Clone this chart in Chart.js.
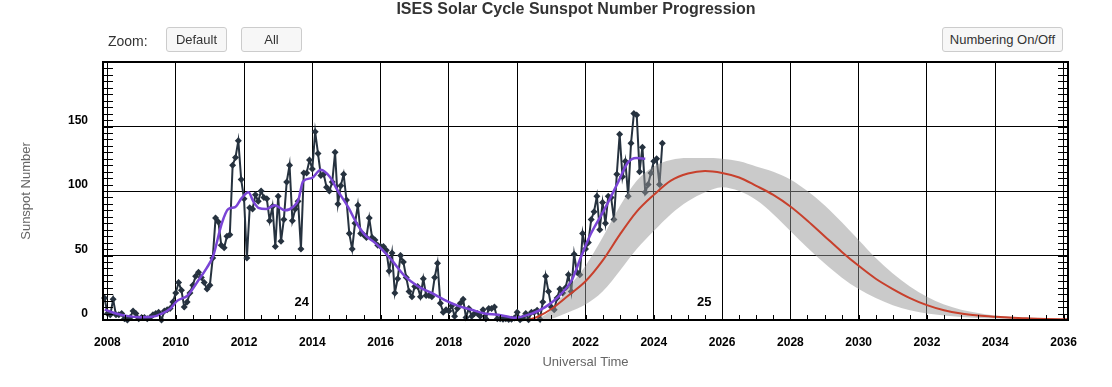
<!DOCTYPE html>
<html>
<head>
<meta charset="utf-8">
<script src="https://cdn.jsdelivr.net/npm/chart.js@4/dist/chart.umd.min.js"></script>
<style>
  body { margin: 0; background: #fff; font-family: "Liberation Sans", Arial, sans-serif; }
  #wrap { position: relative; width: 1112px; height: 387px; overflow: hidden; }
  #c { position: absolute; left: 0; top: 0; }
  .title { position: absolute; top: 0; left: 376px; width: 400px; text-align: center;
           font-size: 16px; font-weight: bold; color: #333; line-height: 17px; white-space: nowrap; }
  .lbl { position: absolute; font-size: 14px; color: #333; }
  .btn { position: absolute; top: 27px; height: 23px; line-height: 23px; text-align: center;
         font-size: 13px; color: #333; background: #f7f7f7; border: 1px solid #ccc; border-radius: 3px; }
</style>
</head>
<body>
<div id="wrap">
  <canvas id="c" width="1112" height="387"></canvas>
  <div class="title">ISES Solar Cycle Sunspot Number Progression</div>
  <div class="lbl" style="left:108px; top:33px;">Zoom:</div>
  <div class="btn" style="left:166px; width:59px;">Default</div>
  <div class="btn" style="left:241px; width:59px;">All</div>
  <div class="btn" style="left:942px; width:119px;">Numbering On/Off</div>
</div>
<script>
// observed monthly sunspot number, first value = Dec 2007
const obsStartYear = 2007;
const obsStartMonth = 12;
const obsValues = [
  17,
  5, 4, 16, 4, 4, 5, 1, 0, 2, 7, 5, 1,
  2, 2, 1, 2, 4, 5, 6, 0, 7, 8, 9, 14,
  21, 29, 23, 10, 14, 21, 27, 34, 37, 33, 29, 24,
  27, 48, 79, 76, 58, 56, 65, 66, 120, 126, 139, 109,
  94, 48, 87, 86, 97, 92, 100, 95, 94, 77, 88, 57,
  96, 61, 78, 107, 120, 77, 86, 92, 55, 114, 114, 124,
  117, 146, 129, 112, 113, 103, 100, 107, 130, 90, 104, 113,
  93, 67, 55, 75, 89, 67, 66, 64, 79, 64, 62, 58,
  57, 57, 54, 38, 52, 21, 32, 50, 45, 33, 22, 18,
  26, 26, 18, 32, 19, 19, 18, 33, 44, 13, 6, 8,
  7, 11, 3, 9, 13, 16, 2, 9, 3, 5, 5, 3,
  8, 1, 9, 9, 10, 1, 1, 0.5, 1, 0.4, 0.5, 1.5,
  6, 0.2, 1.5, 5, 0.2, 6, 6, 7.5, 0.6, 14, 34, 22,
  10, 8, 17, 24, 21, 25, 35, 22, 51, 37, 35, 67,
  55, 60, 78, 84, 96, 70, 91, 75, 96, 95, 78, 113,
  144, 111, 123, 96, 137, 160, 159, 115, 134, 99, 105, 114,
  123, 125, 105, 137
];

// smoothed sunspot number (purple)
const smoothYears = [
  2007.92, 2008.25, 2008.6, 2008.95, 2009.3, 2009.6, 2009.85, 2010.05, 2010.35, 2010.67,
  2010.9, 2011.1, 2011.35, 2011.54, 2011.74, 2011.93, 2012.13, 2012.27, 2012.42, 2012.65,
  2012.9, 2013.2, 2013.45, 2013.59, 2013.73, 2013.98, 2014.25, 2014.51, 2014.75, 2015.05,
  2015.3, 2015.54, 2015.83, 2016.03, 2016.32, 2016.71, 2017.1, 2017.49, 2017.88, 2018.27,
  2018.66, 2019.05, 2019.44, 2019.83, 2019.94, 2020.43, 2020.82, 2021.2, 2021.6, 2021.87,
  2022.16, 2022.55, 2022.94, 2023.24, 2023.49, 2023.75
];
const smoothValues = [
  8, 5, 3, 2.2, 2.5, 5, 9, 15, 19, 31,
  40, 50, 75, 86, 87.5, 94.5, 99, 92, 87, 86,
  89, 85, 88, 93, 107.5, 110, 116.5, 111, 100, 87.5,
  75, 66, 60, 55, 46.6, 34, 26, 21, 15.5, 11,
  8, 5, 4, 2, 1.8, 5, 10, 18, 31, 49,
  67, 85.5, 106, 122, 125.6, 125
];

// predicted cycle 25 (red) with high / low range (grey band)
const predYears = [
  2020.33, 2020.6, 2021.0, 2021.5, 2022.0, 2022.5, 2023.0, 2023.5, 2024.0, 2024.5,
  2025.0, 2025.5, 2026.0, 2026.5, 2027.0, 2027.5, 2028.0, 2028.5, 2029.0, 2029.5,
  2030.0, 2030.5, 2031.0, 2031.5, 2032.0, 2032.5, 2033.0, 2033.5, 2034.0, 2034.5,
  2035.0, 2035.5, 2036.13
];
const predValues = [
  0, 2.5, 8.5, 19, 30, 46, 66, 84, 97, 108,
  113.5, 115.5, 114, 110.5, 104, 97, 88, 77, 65, 53,
  42, 32, 24, 17, 11.5, 7.5, 5, 3.5, 2.5, 1.7,
  1.2, 0.8, 0.5
];
const predHigh = [
  0, 1, 8, 25, 42, 64, 88, 108, 119, 124,
  125.5, 125.5, 125, 123, 119, 115, 109, 100, 89, 76,
  62, 48, 36, 26, 18, 12, 8, 5.5, 3.5, 2.5,
  1.7, 1.2, 0.8
];
const predLow = [
  0, 0, 1, 6, 12, 22, 38, 55, 69, 82,
  92, 99, 103, 100, 93, 82, 69, 56, 44, 33,
  24, 17, 11.5, 7.5, 5, 3.5, 2.3, 1.6, 1.1, 0.8,
  0.5, 0.3, 0.2
];

const xTickYears = [2008, 2010, 2012, 2014, 2016, 2018, 2020, 2022, 2024, 2026, 2028, 2030, 2032, 2034, 2036];
const yTickValues = [0, 50, 100, 150, 200];
const cycleNames = ['24', '25'];
const cycleYears = [2013.69, 2025.48];
const cycleLabelValue = 14;

const xMin = 2007.87, xMax = 2036.13;
const yMin = 0, yMax = 200;
const yMinorStep = 5, xMinorStep = 0.5;

const obsPoints = obsValues.map((v, i) => ({
  x: obsStartYear + (obsStartMonth - 1) / 12 + i / 12,
  y: v
}));
const toPoints = (xs, ys) => xs.map((x, i) => ({ x: x, y: ys[i] }));

// frame, minor ticks and cycle numbers
const framePlugin = {
  id: 'frame',
  afterDatasetsDraw(chart) {
    const { ctx, chartArea: a, scales: { x, y } } = chart;
    ctx.save();
    ctx.strokeStyle = '#000';
    ctx.lineWidth = 1;
    ctx.beginPath();
    for (let v = yMin; v <= yMax; v += yMinorStep) {
      const py = Math.round(y.getPixelForValue(v)) + 0.5;
      ctx.moveTo(a.left, py); ctx.lineTo(a.left + 10, py);
      ctx.moveTo(a.right - 10, py); ctx.lineTo(a.right, py);
    }
    for (let v = xTickYears[0]; v <= xTickYears[xTickYears.length - 1]; v += xMinorStep) {
      const px = Math.round(x.getPixelForValue(v)) + 0.5;
      ctx.moveTo(px, a.bottom); ctx.lineTo(px, a.bottom - 5);
    }
    ctx.stroke();
    ctx.lineWidth = 2;
    ctx.strokeRect(a.left, a.top, a.right - a.left, a.bottom - a.top);

    ctx.fillStyle = '#000';
    ctx.font = 'bold 13px "Liberation Sans", Arial, sans-serif';
    ctx.textAlign = 'center';
    ctx.textBaseline = 'middle';
    cycleNames.forEach((name, i) => {
      ctx.fillText(name, x.getPixelForValue(cycleYears[i]), y.getPixelForValue(cycleLabelValue));
    });
    ctx.restore();
  }
};

const tickFont = { family: '"Liberation Sans", Arial, sans-serif', size: 12, weight: 'bold' };
const titleFont = { family: '"Liberation Sans", Arial, sans-serif', size: 13 };

new Chart(document.getElementById('c'), {
  type: 'line',
  data: {
    datasets: [
      {
        label: 'Monthly Values',
        data: obsPoints,
        borderColor: '#26323f',
        backgroundColor: '#26323f',
        borderWidth: 2,
        pointStyle: 'rectRot',
        pointRadius: 3.5,
        pointBorderWidth: 0,
        tension: 0,
        clip: 6,
        order: 5
      },
      {
        label: 'Smoothed Monthly Values',
        data: toPoints(smoothYears, smoothValues),
        borderColor: '#7a44d6',
        borderWidth: 2.5,
        pointRadius: 0,
        cubicInterpolationMode: 'monotone',
        order: 4
      },
      {
        label: 'Predicted Low',
        data: toPoints(predYears, predLow),
        borderColor: 'rgba(0,0,0,0)',
        borderWidth: 0,
        pointRadius: 0,
        cubicInterpolationMode: 'monotone',
        fill: false,
        order: 3
      },
      {
        label: 'Predicted High',
        data: toPoints(predYears, predHigh),
        borderColor: 'rgba(0,0,0,0)',
        backgroundColor: 'rgba(150,150,150,0.5)',
        borderWidth: 0,
        pointRadius: 0,
        cubicInterpolationMode: 'monotone',
        fill: '-1',
        order: 2
      },
      {
        label: 'Predicted Values',
        data: toPoints(predYears, predValues),
        borderColor: '#c8402c',
        borderWidth: 2,
        pointRadius: 0,
        cubicInterpolationMode: 'monotone',
        order: 1
      }
    ]
  },
  options: {
    responsive: false,
    animation: false,
    devicePixelRatio: 1,
    layout: { padding: { top: 62, right: 44, left: 0, bottom: 0 } },
    plugins: {
      legend: { display: false },
      tooltip: { enabled: false }
    },
    scales: {
      x: {
        type: 'linear',
        min: xMin,
        max: xMax,
        afterFit: (s) => { s.height = 67; },
        afterBuildTicks: (s) => { s.ticks = xTickYears.map(v => ({ value: v })); },
        grid: { color: '#000', lineWidth: 1, drawTicks: false },
        border: { display: false },
        ticks: {
          color: '#000',
          font: tickFont,
          padding: 15,
          maxRotation: 0,
          autoSkip: false,
          callback: (v) => String(v)
        },
        title: {
          display: true,
          text: 'Universal Time',
          color: '#666',
          font: titleFont,
          padding: { top: 0, bottom: 17 }
        }
      },
      y: {
        type: 'linear',
        min: yMin,
        max: yMax,
        afterFit: (s) => { s.width = 103; },
        afterBuildTicks: (s) => { s.ticks = yTickValues.map(v => ({ value: v })); },
        grid: { color: '#000', lineWidth: 1, drawTicks: false },
        border: { display: false },
        ticks: {
          color: '#000',
          font: tickFont,
          padding: 15,
          labelOffset: -6,
          callback: (v) => (v === yMax ? '' : String(v))
        },
        title: {
          display: true,
          text: 'Sunspot Number',
          color: '#666',
          font: titleFont,
          padding: { top: 19, bottom: 0 }
        }
      }
    }
  },
  plugins: [framePlugin]
});
</script>
</body>
</html>
